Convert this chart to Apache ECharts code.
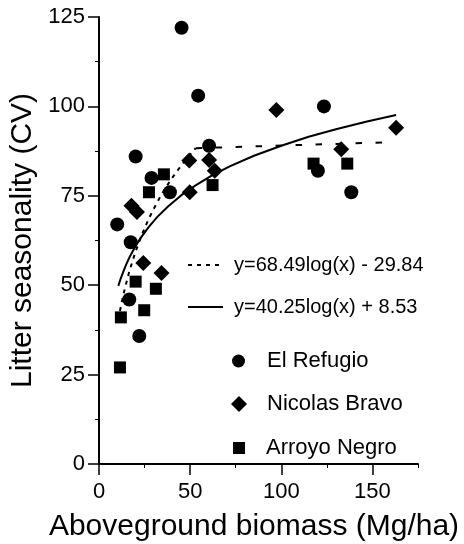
<!DOCTYPE html>
<html>
<head>
<meta charset="utf-8">
<script src="https://cdn.jsdelivr.net/npm/echarts@6/dist/echarts.min.js"></script>
<style>
  html, body { margin: 0; padding: 0; background: #fff; }
  #chart { width: 464px; height: 544px; }
</style>
</head>
<body>
<div id="chart"></div>
<script>
// El Refugio (circles)
const refugioX = [10, 16.6, 17.4, 20.1, 22.1, 28.8, 38.9, 45.3, 54.4, 60.4, 120.1, 123.4, 138.4];
const refugioY = [67, 46, 62, 86, 35.8, 80, 76, 122, 103, 89, 82, 100, 76];
// Nicolas Bravo (diamonds)
const bravoX = [17.8, 20.8, 24.3, 34.3, 49.5, 49.8, 60.4, 63.5, 97.3, 132.9, 163];
const bravoY = [72.2, 70.5, 56.2, 53.4, 84.9, 76, 85, 82, 99, 88, 94];
// Arroyo Negro (squares)
const negroX = [11.5, 12, 20.1, 24.8, 27.4, 31.2, 35.6, 62.3, 117.7, 136.2];
const negroY = [27, 41, 51, 43, 76, 49, 81, 78, 84, 84];

// fitted curves
const solidX = [10.6, 12, 13.5, 15, 17, 20, 23, 27, 32, 38, 45, 53, 62, 72, 85, 100, 115, 130, 147, 163];
const solidY = [49.8, 52.0, 54.0, 55.9, 58.1, 60.9, 63.3, 66.1, 69.1, 72.1, 75.1, 77.9, 80.7, 83.3, 86.2, 89.0, 91.5, 93.6, 95.8, 97.6];
const dashX = [11.5, 12.5, 13.5, 15, 16.5, 18, 20, 22, 24, 26, 28, 30, 33, 36, 40, 44, 48, 53];
const dashY = [42.8, 45.3, 47.6, 50.7, 53.6, 56.1, 59.3, 62.1, 64.7, 67.1, 69.3, 71.3, 74.2, 76.8, 79.9, 82.7, 85.3, 88.3];
const flatX = [53, 160];
const flatY = [88.3, 90];

const xMajorTicks = [0, 50, 100, 150];
const xMinorTicks = [25, 75, 125, 175];

const dashName = 'y=68.49log(x) - 29.84';
const solidName = 'y=40.25log(x) + 8.53';

const font = 'Liberation Sans, Arial, Helvetica, sans-serif';
const pairs = (xs, ys) => xs.map((x, i) => [x, ys[i]]);

function legendItem(name, left, top, w, h, fontSize, pad, hideSymbol) {
  const lg = {
    data: [name],
    left: left,
    top: top,
    padding: 0,
    itemWidth: w,
    itemHeight: h,
    selectedMode: false,
    textStyle: { fontFamily: font, fontSize: fontSize, lineHeight: fontSize, color: '#000', padding: pad }
  };
  if (hideSymbol) lg.itemStyle = { opacity: 0 };
  return lg;
}

const chart = echarts.init(document.getElementById('chart'));
const option = {
  animation: false,
  grid: { left: 99, right: 46, top: 17, bottom: 80, outerBoundsMode: 'none' },
  legend: [
    legendItem(dashName, 187, 251, 35, 10, 20, [8, 0, 0, 6], true),
    legendItem(solidName, 187, 297, 35, 10, 20, [0, 0, 0, 6], true),
    legendItem('El Refugio', 232, 350, 13, 13, 22, [0, 0, 0, 17]),
    legendItem('Nicolas Bravo', 231, 393, 16, 16, 22, [0, 0, 0, 15]),
    legendItem('Arroyo Negro', 233, 437, 12, 12, 22, [0, 0, 0, 16])
  ],
  xAxis: [
    {
      type: 'value', min: 0, max: 175, interval: 25,
      name: 'Aboveground biomass (Mg/ha)',
      nameLocation: 'middle', nameGap: 48,
      nameTextStyle: { fontFamily: font, fontSize: 30, lineHeight: 30, color: '#000', padding: [0, 9, 0, 0] },
      axisLine: { lineStyle: { color: '#000', width: 2 } },
      axisTick: { customValues: xMinorTicks, length: 4, lineStyle: { color: '#000', width: 1 } },
      axisLabel: { show: false },
      splitLine: { show: false }
    },
    {
      type: 'value', min: 0, max: 175, interval: 25, position: 'bottom',
      axisLine: { show: false },
      axisTick: { customValues: xMajorTicks, length: 11, lineStyle: { color: '#000', width: 1.5 } },
      axisLabel: { customValues: xMajorTicks, margin: 17, fontFamily: font, fontSize: 22, lineHeight: 22, color: '#000' },
      splitLine: { show: false }
    }
  ],
  yAxis: {
    type: 'value', min: 0, max: 125, interval: 25,
    name: 'Litter seasonality (CV)',
    nameLocation: 'middle', nameGap: 56, nameRotate: 90,
    nameTextStyle: { fontFamily: font, fontSize: 30, lineHeight: 30, color: '#000' },
    axisLine: { show: true, lineStyle: { color: '#000', width: 2 } },
    axisTick: { show: true, length: 11, lineStyle: { color: '#000', width: 1.5 } },
    minorTick: { show: true, splitNumber: 2, length: 4, lineStyle: { color: '#000', width: 1 } },
    axisLabel: { margin: 14, fontFamily: font, fontSize: 22, lineHeight: 22, color: '#000' },
    splitLine: { show: false }
  },
  series: [
    {
      name: dashName, type: 'line', data: pairs(dashX, dashY),
      symbol: 'none', smooth: false,
      lineStyle: { color: '#000', width: 2, type: [4, 5] }, itemStyle: { color: '#000' }
    },
    {
      name: 'flat', type: 'line', data: pairs(flatX, flatY),
      symbol: 'none', lineStyle: { color: '#000', width: 2, type: [6.5, 13.5] }
    },
    {
      name: solidName, type: 'line', data: pairs(solidX, solidY),
      symbol: 'none', smooth: false,
      lineStyle: { color: '#000', width: 2 }, itemStyle: { color: '#000' }
    },
    {
      name: 'El Refugio', type: 'scatter', symbol: 'circle', symbolSize: 14,
      data: pairs(refugioX, refugioY), itemStyle: { color: '#000', opacity: 1 }
    },
    {
      name: 'Nicolas Bravo', type: 'scatter', symbol: 'diamond', symbolSize: 16,
      data: pairs(bravoX, bravoY), itemStyle: { color: '#000', opacity: 1 }
    },
    {
      name: 'Arroyo Negro', type: 'scatter', symbol: 'rect', symbolSize: 12,
      data: pairs(negroX, negroY), itemStyle: { color: '#000', opacity: 1 }
    }
  ]
};
chart.setOption(option);
</script>
</body>
</html>
